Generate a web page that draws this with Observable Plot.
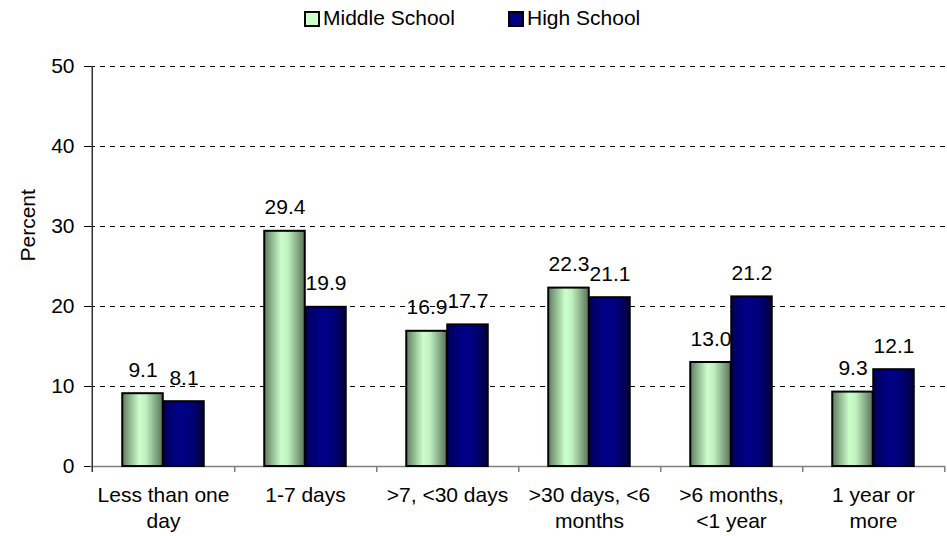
<!DOCTYPE html>
<html>
<head>
<meta charset="utf-8">
<script src="https://cdn.jsdelivr.net/npm/d3@7"></script>
<script src="https://cdn.jsdelivr.net/npm/@observablehq/plot@0.6"></script>
<style>
  html, body { margin: 0; padding: 0; background: #fff; }
  #wrap { position: relative; width: 947px; height: 536px; font-family: "Liberation Sans", Arial, sans-serif; }
  #legend { position: relative; width: 947px; height: 34px; font-size: 21px; color: #000; }
  .sw { position: absolute; top: 11px; width: 12px; height: 12px; border: 2px solid #000; }
  .lt { position: absolute; top: 6px; line-height: 23px; white-space: nowrap; }
  svg { display: block; }
</style>
</head>
<body>
<div id="wrap">
  <div id="legend"></div>
  <div id="chart"></div>
</div>
<script>
const categories = ["Less than one\nday", "1-7 days", ">7, <30 days", ">30 days, <6\nmonths", ">6 months,\n<1 year", "1 year or\nmore"];
const series = ["Middle School", "High School"];
const middleSchool = [9.1, 29.4, 16.9, 22.3, 13.0, 9.3];
const highSchool = [8.1, 19.9, 17.7, 21.1, 21.2, 12.1];
const yTicks = [0, 10, 20, 30, 40, 50];

const W = 947, H = 502;
const ml = 90, mr = 2, mt = 32, mb = 70;
const bw = (W - ml - mr) / categories.length;
const barW = 41;
const outer = (bw - 2 * barW) / 2;

const msData = categories.map((c, i) => ({cat: c, series: series[0], value: middleSchool[i]}));
const hsData = categories.map((c, i) => ({cat: c, series: series[1], value: highSchool[i]}));

const chart = Plot.plot({
  width: W, height: H,
  marginLeft: ml, marginRight: mr, marginTop: mt, marginBottom: mb,
  style: {fontFamily: "'Liberation Sans', Arial, sans-serif", fontSize: "21px", color: "#000", background: "#fff", overflow: "visible"},
  x: {domain: categories, padding: 0, axis: null},
  y: {domain: [0, 50], ticks: yTicks, tickSize: 6, tickPadding: 10, label: null},
  marks: [
    Plot.ruleY(yTicks.filter(d => d > 0), {y: d => d, stroke: "#000", strokeDasharray: "5,5", strokeWidth: 1}),
    Plot.ruleY([0], {y: d => d, stroke: "#808080", strokeWidth: 1.5}),
    Plot.ruleX(categories, {x: d => d, dx: bw / 2, y1: 0, y2: -0.75, stroke: "#808080", strokeWidth: 1.5}),
    Plot.ruleX([categories[0]], {x: d => d, dx: -bw / 2, y1: -0.75, y2: 50, stroke: "#333", strokeWidth: 1.5}),
    Plot.barY(msData, {x: "cat", y: "value", insetLeft: outer, insetRight: outer + barW, fill: "url(#gMS)", stroke: "#000", strokeWidth: 2}),
    Plot.barY(hsData, {x: "cat", y: "value", insetLeft: outer + barW, insetRight: outer, fill: "url(#gHS)", stroke: "#000", strokeWidth: 2}),
    Plot.text(msData, {x: "cat", y: "value", text: d => d.value.toFixed(1), dx: -barW / 2, dy: -17, lineAnchor: "bottom", fontSize: 21, fill: "#000"}),
    Plot.text(hsData, {x: "cat", y: "value", text: d => d.value.toFixed(1), dx: barW / 2, dy: -17, lineAnchor: "bottom", fontSize: 21, fill: "#000"}),
    Plot.text(categories, {x: d => d, y: 0, text: d => d, lineAnchor: "top", dy: 18, lineHeight: 1.2, fontSize: 21, fill: "#000"}),
    Plot.text(["Percent"], {frameAnchor: "left", text: d => d, rotate: -90, dx: -62, dy: -5, fontSize: 21, fill: "#000"})
  ]
});

const defs = document.createElementNS("http://www.w3.org/2000/svg", "defs");
defs.innerHTML = `
  <linearGradient id="gMS" x1="0" y1="0" x2="1" y2="0">
    <stop offset="0" stop-color="#5f7d5f"/>
    <stop offset="0.42" stop-color="#ccffcc"/>
    <stop offset="0.58" stop-color="#c0f2c0"/>
    <stop offset="1" stop-color="#587458"/>
  </linearGradient>
  <linearGradient id="gHS" x1="0" y1="0" x2="1" y2="0">
    <stop offset="0" stop-color="#00005a"/>
    <stop offset="0.4" stop-color="#000088"/>
    <stop offset="0.65" stop-color="#00007e"/>
    <stop offset="1" stop-color="#000040"/>
  </linearGradient>`;
chart.insertBefore(defs, chart.firstChild);
document.getElementById("chart").appendChild(chart);

// legend
const legend = document.getElementById("legend");
const legendItems = [
  {label: series[0], color: "#ccffcc", x: 304},
  {label: series[1], color: "#000080", x: 508}
];
legendItems.forEach(it => {
  const sw = document.createElement("div");
  sw.className = "sw";
  sw.style.left = it.x + "px";
  sw.style.background = it.color;
  legend.appendChild(sw);
  const t = document.createElement("div");
  t.className = "lt";
  t.style.left = (it.x + 19) + "px";
  t.textContent = it.label;
  legend.appendChild(t);
});
</script>
</body>
</html>
